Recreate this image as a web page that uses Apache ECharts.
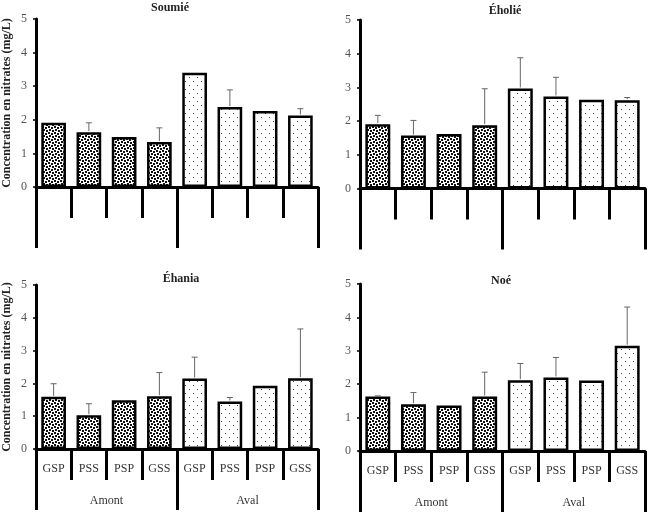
<!DOCTYPE html>
<html>
<head>
<meta charset="utf-8">
<script src="https://cdn.jsdelivr.net/npm/echarts@6/dist/echarts.min.js"></script>
<style>
html,body{margin:0;padding:0;background:#fff;}
#chart{width:649px;height:516px;}
</style>
</head>
<body>
<div id="chart"></div>
<script>
// ---- data ----
const categories = ['GSP', 'PSS', 'PSP', 'GSS', 'GSP', 'PSS', 'PSP', 'GSS'];
const groups = ['Amont', 'Aval'];
const siteNames = ['Soumié', 'Éholié', 'Éhania', 'Noé'];
const soumieMeans = [1.91, 1.63, 1.49, 1.34, 3.40, 2.38, 2.26, 2.13];
const soumieErrors = [0, 0.28, 0, 0.42, 0, 0.51, 0, 0.20];
const eholieMeans = [1.91, 1.57, 1.62, 1.88, 2.97, 2.73, 2.63, 2.62];
const eholieErrors = [0.26, 0.45, 0, 1.08, 0.91, 0.57, 0, 0.08];
const ehaniaMeans = [1.59, 1.03, 1.49, 1.61, 2.15, 1.45, 1.93, 2.16];
const ehaniaErrors = [0.40, 0.35, 0, 0.72, 0.65, 0.12, 0, 1.50];
const noeMeans = [1.63, 1.40, 1.36, 1.63, 2.12, 2.20, 2.11, 3.15];
const noeErrors = [0.02, 0.35, 0, 0.73, 0.50, 0.60, 0, 1.16];
const yAxisTitle = 'Concentration en nitrates (mg/L)';

// ---- patterns ----
function densePattern() {
  const c = document.createElement('canvas');
  c.width = 6; c.height = 6;
  const g = c.getContext('2d');
  g.fillStyle = '#fff'; g.fillRect(0, 0, 6, 6);
  g.fillStyle = '#111';
  [[0, 0], [3, 1], [1, 3], [4, 4]].forEach(p => { g.fillRect(p[0], p[1], 2, 2); });
  return c;
}
function sparsePattern() {
  const c = document.createElement('canvas');
  c.width = 8; c.height = 8;
  const g = c.getContext('2d');
  g.fillStyle = '#fff'; g.fillRect(0, 0, 8, 8);
  g.fillStyle = '#444';
  g.fillRect(1, 1, 1, 1);
  g.fillRect(5, 5, 1, 1);
  return c;
}
const dense = { image: densePattern(), repeat: 'repeat' };
const sparse = { image: sparsePattern(), repeat: 'repeat' };

const panels = [
  { name: siteNames[0], means: soumieMeans, errors: soumieErrors, grid: { left: 33, top: 19, width: 285, height: 168 }, labels: false, yName: true, titleX: 165, titleY: -3 },
  { name: siteNames[1], means: eholieMeans, errors: eholieErrors, grid: { left: 360, top: 20, width: 285, height: 168.5 }, labels: false, yName: false, titleX: 500, titleY: 0 },
  { name: siteNames[2], means: ehaniaMeans, errors: ehaniaErrors, grid: { left: 33, top: 285, width: 285, height: 164 }, labels: true, yName: true, titleX: 176, titleY: 268 },
  { name: siteNames[3], means: noeMeans, errors: noeErrors, grid: { left: 360, top: 284, width: 285, height: 167 }, labels: true, yName: false, titleX: 496, titleY: 270 }
];

const serif = 'Liberation Serif';
const option = { animation: false, title: [], grid: [], xAxis: [], yAxis: [], series: [] };

panels.forEach((p, i) => {
  option.title.push({
    text: p.name, left: p.titleX, top: p.titleY, textAlign: 'center',
    textStyle: { fontFamily: serif, fontWeight: 'bold', fontSize: 12, color: '#222' }
  });
  option.grid.push(Object.assign({ containLabel: false }, p.grid));
  option.xAxis.push({
    type: 'category', gridIndex: i, data: categories, position: 'bottom',
    axisLine: { show: true, lineStyle: { color: '#000', width: 3 } },
    axisTick: { show: true, interval: 0, length: 31, lineStyle: { color: '#000', width: 3 } },
    axisLabel: { show: p.labels, interval: 0, margin: 14, fontFamily: serif, fontSize: 12, color: '#333' },
    splitLine: { show: false }
  });
  option.xAxis.push({
    type: 'category', gridIndex: i, data: groups, position: 'bottom',
    axisLine: { show: false },
    axisTick: { show: true, interval: 0, length: 61, lineStyle: { color: '#000', width: 3 } },
    axisLabel: { show: p.labels, interval: 0, margin: 46, fontFamily: serif, fontSize: 12, color: '#333' },
    splitLine: { show: false }
  });
  option.yAxis.push({
    type: 'value', gridIndex: i, min: 0, max: 5, interval: 1,
    name: p.yName ? yAxisTitle : '', nameLocation: 'middle', nameRotate: 90, nameGap: 23,
    nameTextStyle: { fontFamily: serif, fontWeight: 'bold', fontSize: 12, color: '#222' },
    axisLine: { show: true, lineStyle: { color: '#000', width: 3 } },
    axisTick: { show: true, length: 3, lineStyle: { color: '#000', width: 1.5 } },
    axisLabel: { margin: 9, fontFamily: serif, fontSize: 12, color: '#555' },
    splitLine: { show: false }
  });
  option.series.push({
    type: 'bar', xAxisIndex: i * 2, yAxisIndex: i, barCategoryGap: '30%',
    data: p.means.map((v, k) => ({
      value: v,
      itemStyle: { color: k < 4 ? dense : sparse, borderColor: '#000', borderWidth: 2.5 }
    })),
    z: 2
  });
  option.series.push({
    type: 'custom', xAxisIndex: i * 2, yAxisIndex: i, z: 3,
    data: p.means.map((v, k) => [k, v, p.errors[k]]),
    renderItem: function (params, api) {
      const x = api.value(0), m = api.value(1), e = api.value(2);
      if (!e) return null;
      const base = api.coord([x, m]);
      const top = api.coord([x, m + e]);
      const cap = 3;
      return {
        type: 'group',
        children: [
          { type: 'line', shape: { x1: base[0], y1: base[1] - 1, x2: top[0], y2: top[1] }, style: { stroke: '#666', lineWidth: 1 } },
          { type: 'line', shape: { x1: top[0] - cap, y1: top[1], x2: top[0] + cap, y2: top[1] }, style: { stroke: '#666', lineWidth: 1 } }
        ]
      };
    }
  });
});

const chart = echarts.init(document.getElementById('chart'), null, { renderer: 'canvas' });
chart.setOption(option);
</script>
</body>
</html>
